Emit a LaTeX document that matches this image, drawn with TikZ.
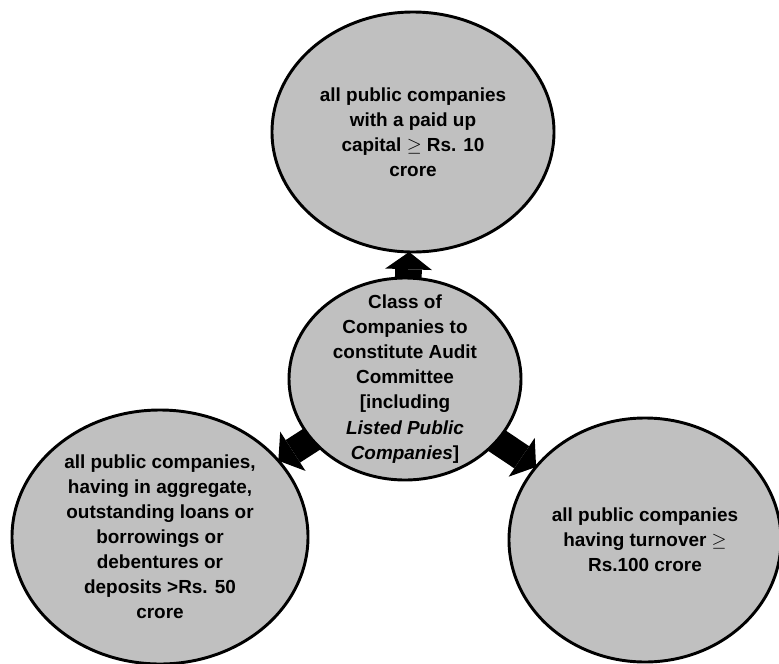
\documentclass[tikz,border=0pt]{standalone}
\usepackage{fontspec}
\setmainfont{Liberation Sans}
\usetikzlibrary{shapes.geometric,arrows.meta,backgrounds}

\definecolor{bubblegrey}{RGB}{192,192,192}

\tikzset{
	bubble/.style={ellipse, draw=black, line width=2.2pt, fill=bubblegrey,
		inner sep=0pt, outer sep=0pt},
	bubbletext/.style={align=center, text=black,
		font=\bfseries\fontsize{14.2}{18.8}\selectfont},
	fatarrow/.style={draw=black, line width=20pt,
		-{Triangle[width=35pt, length=13pt, line width=0pt]}},
}

\begin{document}
\begin{tikzpicture}[x=0.75pt, y=-0.75pt]
	\useasboundingbox (0,0) rectangle (779,664);

	% the four bubbles
	\node[bubble, minimum width=174pt, minimum height=151.5pt] (hub) at (405,379) {};
	\node[bubble, minimum width=211.5pt, minimum height=180pt] (capital) at (413,132) {};
	\node[bubble, minimum width=222pt, minimum height=190.5pt] (loans) at (160,537) {};
	\node[bubble, minimum width=204pt, minimum height=183pt] (turnover) at (645,540) {};

	\node[bubbletext] (hubtext) at (hub) {Class of\\Companies to\\constitute Audit\\Committee\\{}[including\\\textit{Listed Public}\\\textit{Companies}]};
	\node[bubbletext] (capitaltext) at (capital) {all public companies\\with a paid up\\capital $\geq$ Rs. 10\\crore};
	\node[bubbletext] (loanstext) at (loans) {all public companies,\\having in aggregate,\\outstanding loans or\\borrowings or\\debentures or\\deposits >Rs. 50\\crore};
	\node[bubbletext] (turnovertext) at (turnover) {all public companies\\having turnover $\geq$\\Rs.100 crore};

	% block arrows behind the bubbles
	\begin{scope}[on background layer]
		\draw[fatarrow] (hub.center) -- (capital);
		\draw[fatarrow] (hub.center) -- (loans);
		\draw[fatarrow] (hub.center) -- (turnover);
	\end{scope}
\end{tikzpicture}
\end{document}
